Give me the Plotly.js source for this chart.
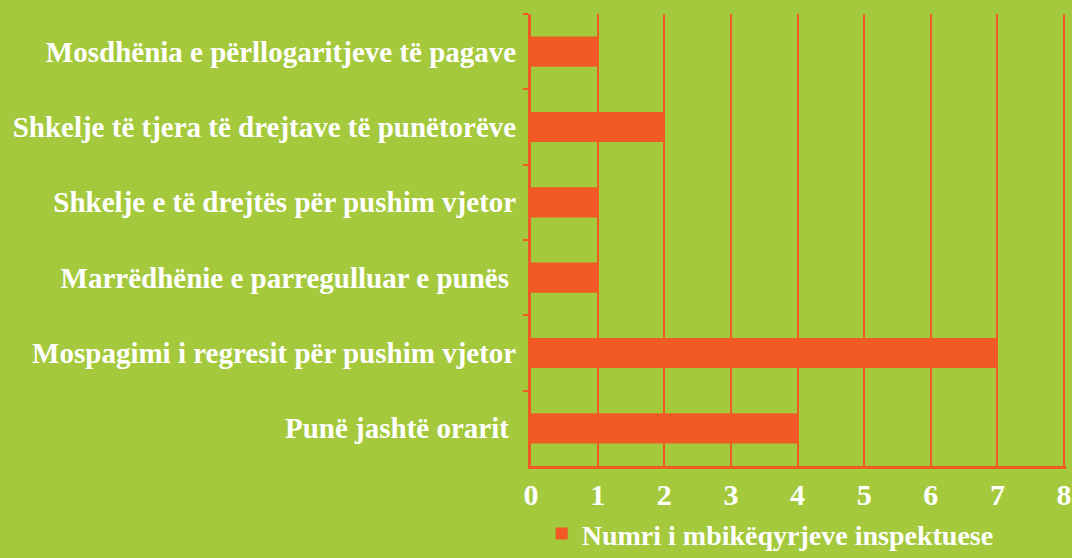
<!DOCTYPE html>
<html>
<head>
<meta charset="utf-8">
<script src="https://cdn.plot.ly/plotly-3.0.1.min.js"></script>
<style>
  html, body { margin: 0; padding: 0; background: #a5c93c; }
  #chart { width: 1072px; height: 558px; }
</style>
</head>
<body>
<div id="chart"></div>
<script>
'use strict'
var categories = [
  "Mosdhënia e përllogaritjeve të pagave",
  "Shkelje të tjera të drejtave të punëtorëve",
  "Shkelje e të drejtës për pushim vjetor",
  "Marrëdhënie e parregulluar e punës ",
  "Mospagimi i regresit për pushim vjetor",
  "Punë jashtë orarit "
];
var counts = [1, 2, 1, 1, 7, 4];
var seriesName = "Numri i mbikëqyrjeve inspektuese";
var xTicks = [0, 1, 2, 3, 4, 5, 6, 7, 8];

var green = '#a5c93c';
var orange = '#f15a24';
var serif = 'Liberation Serif';

var trace = {
  type: 'bar',
  orientation: 'h',
  name: seriesName,
  x: counts,
  y: categories,
  marker: {color: orange, line: {width: 0}},
  hoverinfo: 'none'
}

var layout = {
  width: 1072,
  height: 558,
  margin: {l: 531, r: 6, t: 14, b: 92, pad: 0, autoexpand: false},
  paper_bgcolor: green,
  plot_bgcolor: green,
  bargap: 0.6,
  showlegend: true,
  legend: {
    orientation: 'h',
    x: 0.02,
    xanchor: 'left',
    yref: 'container',
    y: 0.088,
    yanchor: 'top',
    font: {family: serif, size: 28, color: '#ffffff', weight: 700},
    bgcolor: 'rgba(0,0,0,0)'
  },
  xaxis: {
    range: [0, 8.03],
    tickvals: xTicks,
    ticks: '',
    showgrid: true,
    gridcolor: orange,
    gridwidth: 2,
    showline: true,
    linecolor: orange,
    linewidth: 3,
    zeroline: false,
    automargin: false,
    ticklabeloverflow: 'allow',
    ticklabelstandoff: 0,
    tickfont: {family: serif, size: 30, color: '#ffffff', weight: 700},
    fixedrange: true
  },
  yaxis: {
    type: 'category',
    autorange: 'reversed',
    ticks: 'outside',
    tickson: 'boundaries',
    ticklen: 5,
    tickwidth: 2,
    tickcolor: orange,
    showline: true,
    linecolor: orange,
    linewidth: 3,
    showgrid: false,
    automargin: false,
    ticklabelstandoff: 6,
    tickfont: {family: serif, size: 29, color: '#ffffff', weight: 700},
    fixedrange: true
  }
};

Plotly.newPlot('chart', [trace], layout, {displayModeBar: false, staticPlot: true});
</script>
</body>
</html>
